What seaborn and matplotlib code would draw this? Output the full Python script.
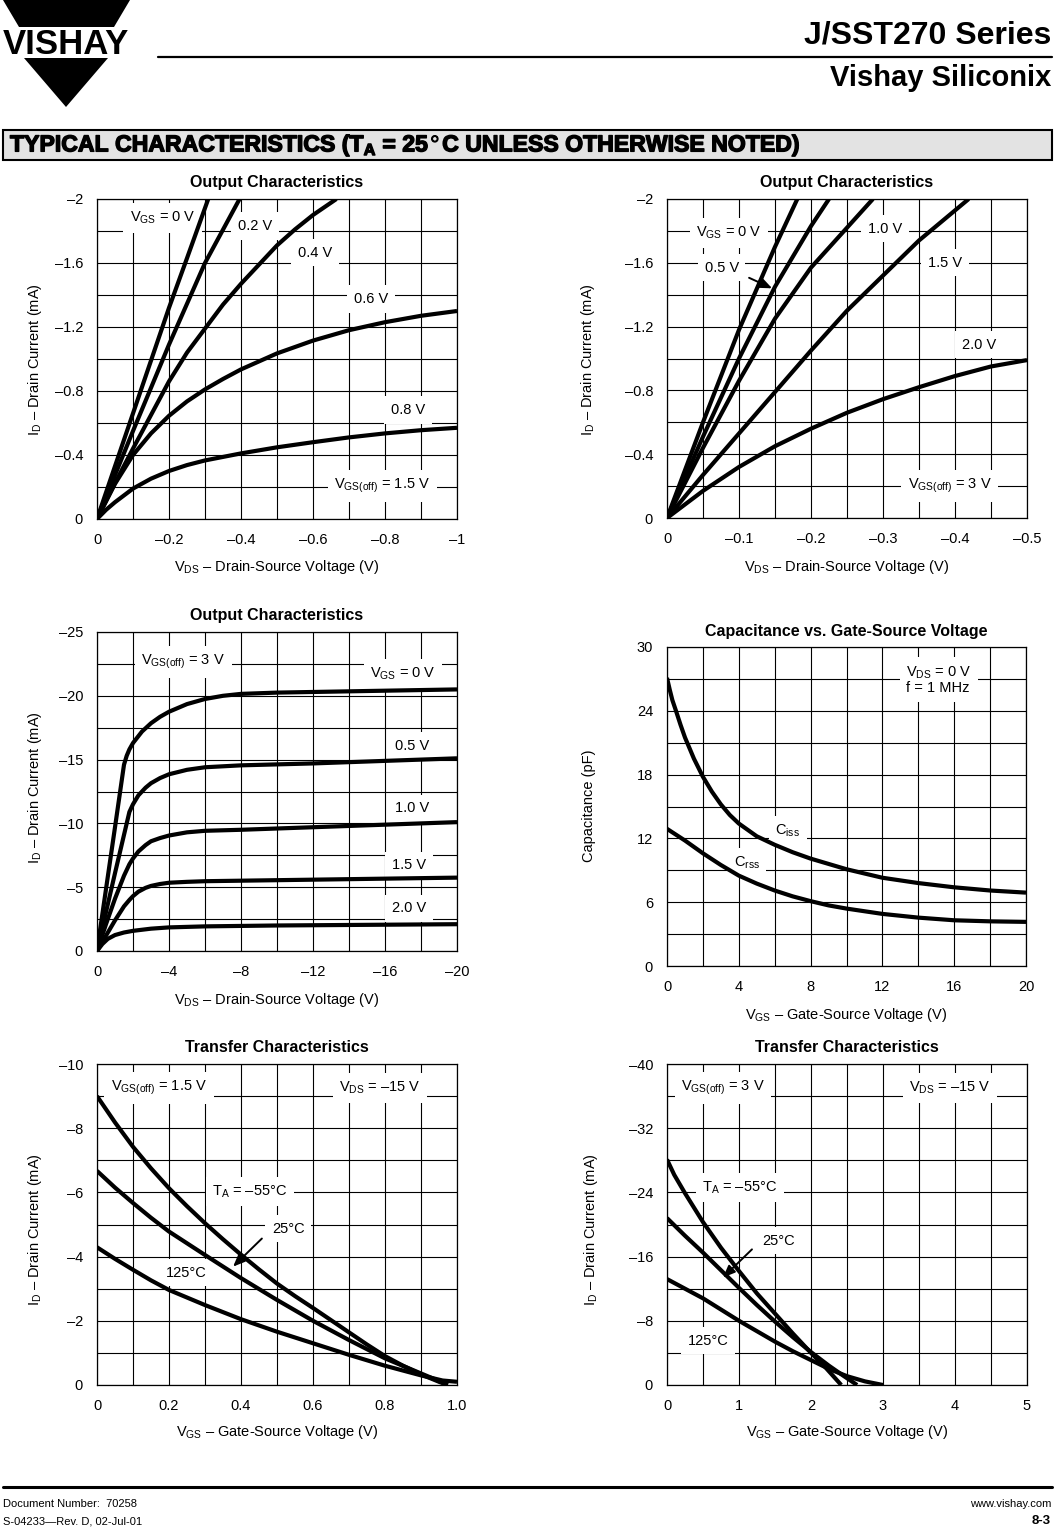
import matplotlib
matplotlib.use("Agg")
import matplotlib.pyplot as plt
import seaborn as sns
from matplotlib.patches import Polygon, Rectangle
import matplotlib.patheffects as pe

# ---------------- data ----------------
# Panel 1: Output characteristics, VGS(off)=1.5 V (VDS V, ID mA)
p1_vds_0 = [0, -0.05, -0.1, -0.15, -0.2, -0.25, -0.309]
p1_id_0 = [0, -0.33, -0.66, -0.99, -1.32, -1.63, -2.0]
p1_vds_02 = [0, -0.1, -0.2, -0.3, -0.396]
p1_id_02 = [0, -0.55, -1.09, -1.6, -2.0]
p1_vds_04 = [0, -0.05, -0.1, -0.15, -0.2, -0.25, -0.3, -0.35, -0.4, -0.45, -0.5, -0.55, -0.6, -0.665]
p1_id_04 = [0, -0.225, -0.44, -0.65, -0.86, -1.04, -1.19, -1.34, -1.47, -1.59, -1.71, -1.81, -1.9, -2.0]
p1_vds_06 = [0, -0.05, -0.1, -0.15, -0.2, -0.25, -0.3, -0.35, -0.4, -0.5, -0.6, -0.7, -0.8, -0.9, -1.0]
p1_id_06 = [0, -0.22, -0.40, -0.535, -0.645, -0.735, -0.81, -0.875, -0.935, -1.035, -1.115, -1.18, -1.23, -1.27, -1.30]
p1_vds_08 = [0, -0.025, -0.05, -0.1, -0.15, -0.2, -0.25, -0.3, -0.4, -0.5, -0.6, -0.7, -0.8, -0.9, -1.0]
p1_id_08 = [0, -0.057, -0.105, -0.19, -0.252, -0.30, -0.337, -0.366, -0.41, -0.448, -0.48, -0.51, -0.535, -0.555, -0.57]

# Panel 2: Output characteristics, VGS(off)=3 V
p2_vds_0 = [0, -0.05, -0.1, -0.15, -0.181]
p2_id_0 = [0, -0.6, -1.18, -1.7, -2.0]
p2_vds_05 = [0, -0.05, -0.1, -0.15, -0.2, -0.225]
p2_id_05 = [0, -0.51, -1.0, -1.45, -1.83, -2.0]
p2_vds_10 = [0, -0.05, -0.1, -0.15, -0.2, -0.25, -0.286]
p2_id_10 = [0, -0.44, -0.86, -1.25, -1.57, -1.82, -2.0]
p2_vds_15 = [0, -0.05, -0.1, -0.15, -0.2, -0.25, -0.3, -0.35, -0.419]
p2_id_15 = [0, -0.27, -0.53, -0.79, -1.05, -1.30, -1.52, -1.74, -2.0]
p2_vds_20 = [0, -0.05, -0.1, -0.15, -0.2, -0.25, -0.3, -0.35, -0.4, -0.45, -0.5]
p2_id_20 = [0, -0.17, -0.32, -0.45, -0.56, -0.66, -0.745, -0.82, -0.89, -0.95, -0.99]

# Panel 3: Output characteristics, wide range
p3_vds_0 = [0, -1.0, -1.5, -1.65, -1.8, -2.0, -2.5, -3, -3.5, -4, -5, -6, -7, -8, -10, -14, -20]
p3_id_0 = [0, -9.7, -14.6, -15.3, -15.8, -16.3, -17.2, -17.85, -18.35, -18.75, -19.35, -19.75, -20.0, -20.15, -20.25, -20.35, -20.5]
p3_vds_05 = [0, -1.0, -1.5, -1.8, -2.0, -2.3, -2.7, -3, -3.5, -4, -5, -6, -8, -12, -16, -20]
p3_id_05 = [0, -6.1, -9.1, -10.9, -11.5, -12.2, -12.8, -13.15, -13.55, -13.85, -14.2, -14.4, -14.55, -14.7, -14.9, -15.1]
p3_vds_10 = [0, -0.5, -1.0, -1.5, -1.8, -2.0, -2.3, -2.7, -3, -3.5, -4, -5, -6, -8, -12, -16, -20]
p3_id_10 = [0, -2.1, -4.1, -5.9, -6.8, -7.25, -7.8, -8.3, -8.6, -8.85, -9.05, -9.3, -9.42, -9.5, -9.7, -9.9, -10.1]
p3_vds_15 = [0, -0.5, -1.0, -1.5, -1.8, -2.0, -2.3, -2.7, -3, -3.5, -4, -5, -6, -10, -15, -20]
p3_id_15 = [0, -1.2, -2.4, -3.5, -4.0, -4.3, -4.65, -4.95, -5.1, -5.25, -5.35, -5.42, -5.47, -5.55, -5.65, -5.75]
p3_vds_20 = [0, -0.3, -0.6, -1.0, -1.5, -2.0, -3, -4, -6, -10, -15, -20]
p3_id_20 = [0, -0.55, -0.95, -1.25, -1.45, -1.58, -1.75, -1.85, -1.93, -2.0, -2.05, -2.1]

# Panel 4: Capacitance vs VGS (V, pF)
p4_vgs_ciss = [0, 0.15, 0.3, 0.5, 0.75, 1, 1.5, 2, 2.5, 3, 3.5, 4, 5, 6, 7, 8, 9, 10, 12, 14, 16, 18, 20]
p4_ciss = [27.1, 26.0, 25.0, 24.0, 22.7, 21.5, 19.5, 17.8, 16.4, 15.2, 14.2, 13.4, 12.2, 11.4, 10.7, 10.1, 9.6, 9.1, 8.3, 7.8, 7.4, 7.1, 6.9]
p4_vgs_crss = [0, 0.5, 1, 1.5, 2, 3, 4, 5, 6, 7, 8, 9, 10, 12, 14, 16, 18, 20]
p4_crss = [12.9, 12.35, 11.8, 11.2, 10.6, 9.5, 8.5, 7.75, 7.1, 6.55, 6.1, 5.7, 5.4, 4.9, 4.55, 4.3, 4.2, 4.15]

# Panel 5: Transfer characteristics, VGS(off)=1.5 V
p5_vgs_m55 = [0, 0.05, 0.1, 0.15, 0.2, 0.25, 0.3, 0.35, 0.4, 0.45, 0.5, 0.55, 0.6, 0.65, 0.7, 0.75, 0.8, 0.85, 0.9, 0.95, 0.975]
p5_id_m55 = [-9.0, -8.18, -7.42, -6.75, -6.13, -5.57, -5.04, -4.54, -4.06, -3.6, -3.16, -2.77, -2.4, -2.02, -1.64, -1.26, -0.9, -0.6, -0.33, -0.1, 0.0]
p5_vgs_25 = [0, 0.05, 0.1, 0.15, 0.2, 0.3, 0.4, 0.5, 0.6, 0.7, 0.8, 0.9, 0.97]
p5_id_25 = [-6.67, -6.15, -5.67, -5.21, -4.78, -4.05, -3.33, -2.65, -2.0, -1.4, -0.83, -0.36, -0.03]
p5_vgs_125 = [0, 0.05, 0.1, 0.15, 0.2, 0.3, 0.4, 0.5, 0.6, 0.7, 0.8, 0.9, 0.96, 1.0]
p5_id_125 = [-4.29, -3.93, -3.59, -3.26, -2.96, -2.49, -2.05, -1.66, -1.30, -0.94, -0.6, -0.3, -0.14, -0.1]

# Panel 6: Transfer characteristics, VGS(off)=3 V
p6_vgs_m55 = [0, 0.1, 0.25, 0.5, 0.75, 1.0, 1.25, 1.5, 1.75, 2.0, 2.2, 2.42]
p6_id_m55 = [-28.1, -26.2, -23.9, -20.3, -17.1, -14.2, -11.4, -8.9, -6.4, -4.0, -2.2, 0.0]
p6_vgs_25 = [0, 0.25, 0.5, 0.75, 1.0, 1.25, 1.5, 1.75, 2.0, 2.25, 2.45, 2.64]
p6_id_25 = [-20.8, -18.6, -16.5, -14.3, -12.1, -9.95, -7.9, -5.95, -4.1, -2.4, -1.15, 0.0]
p6_vgs_125 = [0, 0.25, 0.5, 0.75, 1.0, 1.25, 1.5, 1.75, 2.0, 2.25, 2.5, 2.75, 3.0]
p6_id_125 = [-13.2, -12.0, -10.8, -9.4, -8.0, -6.7, -5.4, -4.2, -3.1, -2.0, -1.1, -0.45, 0.0]

# tick labels
p1_xt = [0, -0.2, -0.4, -0.6, -0.8, -1]
p1_xl = ["0", "\u20130.2", "\u20130.4", "\u20130.6", "\u20130.8", "\u20131"]
p12_yt = [0, -0.4, -0.8, -1.2, -1.6, -2]
p12_yl = ["0", "\u20130.4", "\u20130.8", "\u20131.2", "\u20131.6", "\u20132"]
p2_xt = [0, -0.1, -0.2, -0.3, -0.4, -0.5]
p2_xl = ["0", "\u20130.1", "\u20130.2", "\u20130.3", "\u20130.4", "\u20130.5"]
p3_xt = [0, -4, -8, -12, -16, -20]
p3_xl = ["0", "\u20134", "\u20138", "\u201312", "\u201316", "\u201320"]
p3_yt = [0, -5, -10, -15, -20, -25]
p3_yl = ["0", "\u20135", "\u201310", "\u201315", "\u201320", "\u201325"]
p4_xt = [0, 4, 8, 12, 16, 20]
p4_xl = ["0", "4", "8", "12", "16", "20"]
p4_yt = [0, 6, 12, 18, 24, 30]
p4_yl = ["0", "6", "12", "18", "24", "30"]
p5_xt = [0, 0.2, 0.4, 0.6, 0.8, 1.0]
p5_xl = ["0", "0.2", "0.4", "0.6", "0.8", "1.0"]
p5_yt = [0, -2, -4, -6, -8, -10]
p5_yl = ["0", "\u20132", "\u20134", "\u20136", "\u20138", "\u201310"]
p6_xt = [0, 1, 2, 3, 4, 5]
p6_xl = ["0", "1", "2", "3", "4", "5"]
p6_yt = [0, -8, -16, -24, -32, -40]
p6_yl = ["0", "\u20138", "\u201316", "\u201324", "\u201332", "\u201340"]

# ---------------- style ----------------
sns.set_theme(style="white")
plt.rcParams['font.family'] = ['Liberation Sans', 'DejaVu Sans']
plt.rcParams['mathtext.fontset'] = 'custom'
plt.rcParams['mathtext.rm'] = 'Liberation Sans'
plt.rcParams['mathtext.it'] = 'Liberation Sans:italic'
plt.rcParams['mathtext.bf'] = 'Liberation Sans:bold'
plt.rcParams['text.color'] = 'black'

W, H = 1055, 1529
fig = plt.figure(figsize=(W / 100, H / 100), dpi=100)
fig.patch.set_facecolor('white')

def fx(x):
    return x / W

def fy(y):
    return 1 - y / H

# overlay for header / footer
ov = fig.add_axes([0, 0, 1, 1])
ov.set_xlim(0, W)
ov.set_ylim(H, 0)
ov.axis('off')
ov.add_patch(Polygon([(3, 0), (130, 0), (114, 27), (19, 27)], closed=True, color='black', lw=0))
ov.add_patch(Polygon([(24, 58), (108, 58), (66, 107)], closed=True, color='black', lw=0))
ov.text(66, 44, "VISHAY", ha='center', va='center', fontsize=25, fontweight='bold')
ov.plot([158, 1052], [57, 57], color='black', lw=1.6)
ov.text(1051, 36, "J/SST270 Series", ha='right', va='center', fontsize=23, fontweight='bold')
ov.text(1051, 78, "Vishay Siliconix", ha='right', va='center', fontsize=21, fontweight='bold')
ov.add_patch(Rectangle((3, 130), 1049, 30, facecolor='#e3e3e3', edgecolor='black', lw=1.5))
ov.text(10, 145, r"TYPICAL CHARACTERISTICS (T$_{\mathbf{A}}$ = 25$^\circ$C UNLESS OTHERWISE NOTED)",
        ha='left', va='center', fontsize=16.6, fontweight='bold',
        path_effects=[pe.withStroke(linewidth=1.0, foreground='black')])
ov.plot([3, 1052], [1487, 1487], color='black', lw=2.2)
ov.text(3, 1504, "Document Number:  70258", ha='left', va='center', fontsize=8)
ov.text(3, 1521, "S-04233\u2014Rev. D, 02-Jul-01", ha='left', va='center', fontsize=8)
ov.text(1051, 1504, "www.vishay.com", ha='right', va='center', fontsize=8)
ov.text(1051, 1521, "8-3", ha='right', va='center', fontsize=9.5, fontweight='bold')

LW = 3.0
FS = 10.5
BOX = dict(boxstyle='square,pad=0.45', facecolor='white', edgecolor='none')


def make_axes(l, t, r, b, xlim, ylim, xt, xl, xminor, yt, yl, yminor):
    ax = fig.add_axes([fx(l), fy(b), (r - l) / W, (b - t) / H])
    ax.set_facecolor('white')
    ax.set_xlim(*xlim)
    ax.set_ylim(*ylim)
    ax.set_xticks(xt)
    ax.set_xticklabels(xl)
    ax.set_xticks(xminor, minor=True)
    ax.set_yticks(yt)
    ax.set_yticklabels(yl)
    ax.set_yticks(yminor, minor=True)
    ax.tick_params(which='both', length=0, labelsize=FS, colors='black')
    ax.tick_params(axis='x', pad=10)
    ax.tick_params(axis='y', pad=10)
    ax.set_axisbelow(True)
    ax.grid(which='both', color='black', lw=0.8)
    for s in ax.spines.values():
        s.set_color('black')
        s.set_linewidth(0.9)
        s.set_visible(True)
    return ax


def curve(ax, x, y):
    sns.lineplot(x=x, y=y, ax=ax, color='black', linewidth=LW, estimator=None,
                 sort=False, zorder=4, solid_capstyle='butt', solid_joinstyle='round')
    ax.set_xlabel("")
    ax.set_ylabel("")


def lab(ax, x, y, s, ha='center'):
    ax.text(x, y, s, ha=ha, va='center', fontsize=FS, bbox=BOX, zorder=3)


def arrow(ax, x0, y0, x1, y1):
    ax.annotate("", xy=(x1, y1), xytext=(x0, y0), zorder=5,
                arrowprops=dict(arrowstyle='-|>,head_length=0.6,head_width=0.25',
                                color='black', lw=1.4, shrinkA=0, shrinkB=0))


def ftext(x, y, s, **kw):
    fig.text(fx(x), fy(y), s, ha='center', va='center', **kw)


DASH = "\u2013"
VDS_LBL = r"V$_{\mathrm{DS}}$ " + DASH + " Drain-Source Voltage (V)"
VGS_LBL = r"V$_{\mathrm{GS}}$ " + DASH + " Gate-Source Voltage (V)"
ID_LBL = r"I$_{\mathrm{D}}$ " + DASH + " Drain Current (mA)"

# ---- Panel 1 ----
ax1 = make_axes(97, 199, 457, 519, (0, -1), (0, -2), p1_xt, p1_xl,
                [-0.1, -0.3, -0.5, -0.7, -0.9], p12_yt, p12_yl, [-0.2, -0.6, -1.0, -1.4, -1.8])
for xs, ys in [(p1_vds_0, p1_id_0), (p1_vds_02, p1_id_02), (p1_vds_04, p1_id_04),
               (p1_vds_06, p1_id_06), (p1_vds_08, p1_id_08)]:
    curve(ax1, xs, ys)
lab(ax1, -0.183, -1.881, r"V$_{\mathrm{GS}}$ = 0 V")
lab(ax1, -0.439, -1.831, "0.2 V")
lab(ax1, -0.606, -1.663, "0.4 V")
lab(ax1, -0.761, -1.375, "0.6 V")
lab(ax1, -0.864, -0.681, "0.8 V")
lab(ax1, -0.792, -0.206, r"V$_{\mathrm{GS(off)}}$ = 1.5 V")
ftext(277, 183, "Output Characteristics", fontsize=11.5, fontweight='bold')
ftext(277, 567, VDS_LBL, fontsize=FS)
ftext(35, 360, ID_LBL, fontsize=FS, rotation=90)

# ---- Panel 2 ----
ax2 = make_axes(667, 199, 1027, 518, (0, -0.5), (0, -2), p2_xt, p2_xl,
                [-0.05, -0.15, -0.25, -0.35, -0.45], p12_yt, p12_yl, [-0.2, -0.6, -1.0, -1.4, -1.8])
for xs, ys in [(p2_vds_0, p2_id_0), (p2_vds_05, p2_id_05), (p2_vds_10, p2_id_10),
               (p2_vds_15, p2_id_15), (p2_vds_20, p2_id_20)]:
    curve(ax2, xs, ys)
lab(ax2, -0.086, -1.788, r"V$_{\mathrm{GS}}$ = 0 V")
lab(ax2, -0.076, -1.569, "0.5 V")
arrow(ax2, -0.114, -1.506, -0.146, -1.44)
lab(ax2, -0.303, -1.813, "1.0 V")
lab(ax2, -0.386, -1.6, "1.5 V")
lab(ax2, -0.433, -1.0875, "2.0 V")
lab(ax2, -0.393, -0.2, r"V$_{\mathrm{GS(off)}}$ = 3 V")
ftext(847, 183, "Output Characteristics", fontsize=11.5, fontweight='bold')
ftext(847, 567, VDS_LBL, fontsize=FS)
ftext(588, 360, ID_LBL, fontsize=FS, rotation=90)

# ---- Panel 3 ----
ax3 = make_axes(97, 632, 457, 951, (0, -20), (0, -25), p3_xt, p3_xl,
                [-2, -6, -10, -14, -18], p3_yt, p3_yl, [-2.5, -7.5, -12.5, -17.5, -22.5])
for xs, ys in [(p3_vds_0, p3_id_0), (p3_vds_05, p3_id_05), (p3_vds_10, p3_id_10),
               (p3_vds_15, p3_id_15), (p3_vds_20, p3_id_20)]:
    curve(ax3, xs, ys)
lab(ax3, -4.78, -22.66, r"V$_{\mathrm{GS(off)}}$ = 3 V")
lab(ax3, -17.0, -21.72, r"V$_{\mathrm{GS}}$ = 0 V")
lab(ax3, -17.5, -16.1, "0.5 V")
lab(ax3, -17.5, -11.17, "1.0 V")
lab(ax3, -17.33, -6.72, "1.5 V")
lab(ax3, -17.33, -3.36, "2.0 V")
ftext(277, 616, "Output Characteristics", fontsize=11.5, fontweight='bold')
ftext(277, 1000, VDS_LBL, fontsize=FS)
ftext(35, 788, ID_LBL, fontsize=FS, rotation=90)

# ---- Panel 4 ----
ax4 = make_axes(667, 647, 1026, 966, (0, 20), (0, 30), p4_xt, p4_xl,
                [2, 6, 10, 14, 18], p4_yt, p4_yl, [3, 9, 15, 21, 27])
curve(ax4, p4_vgs_ciss, p4_ciss)
curve(ax4, p4_vgs_crss, p4_crss)
ax4.text(13.33, 26.9, "V$_{\\mathrm{DS}}$ = 0 V\nf = 1 MHz", ha='left', va='center',
         fontsize=FS, bbox=BOX, zorder=3, linespacing=1.0)
lab(ax4, 6.72, 12.75, r"C$_{\mathrm{iss}}$")
lab(ax4, 4.44, 9.75, r"C$_{\mathrm{rss}}$")
ftext(846, 631, "Capacitance vs. Gate-Source Voltage", fontsize=11.5, fontweight='bold')
ftext(846, 1015, VGS_LBL, fontsize=FS)
ftext(589, 806, "Capacitance (pF)", fontsize=FS, rotation=90)

# ---- Panel 5 ----
ax5 = make_axes(97, 1064, 457, 1385, (0, 1.0), (0, -10), p5_xt, p5_xl,
                [0.1, 0.3, 0.5, 0.7, 0.9], p5_yt, p5_yl, [-1, -3, -5, -7, -9])
for xs, ys in [(p5_vgs_m55, p5_id_m55), (p5_vgs_25, p5_id_25), (p5_vgs_125, p5_id_125)]:
    curve(ax5, xs, ys)
lab(ax5, 0.172, -9.25, r"V$_{\mathrm{GS(off)}}$ = 1.5 V")
lab(ax5, 0.786, -9.25, "V$_{\\mathrm{DS}}$ = " + DASH + "15 V")
lab(ax5, 0.425, -6.03, "T$_{\\mathrm{A}}$ = " + DASH + "55\u00b0C")
lab(ax5, 0.531, -4.875, "25\u00b0C")
arrow(ax5, 0.458, -4.5625, 0.378, -3.6875)
lab(ax5, 0.247, -3.5, "125\u00b0C")
ftext(277, 1048, "Transfer Characteristics", fontsize=11.5, fontweight='bold')
ftext(277, 1432, VGS_LBL, fontsize=FS)
ftext(35, 1230, ID_LBL, fontsize=FS, rotation=90)

# ---- Panel 6 ----
ax6 = make_axes(667, 1064, 1027, 1385, (0, 5), (0, -40), p6_xt, p6_xl,
                [0.5, 1.5, 2.5, 3.5, 4.5], p6_yt, p6_yl, [-4, -12, -20, -28, -36])
for xs, ys in [(p6_vgs_m55, p6_id_m55), (p6_vgs_25, p6_id_25), (p6_vgs_125, p6_id_125)]:
    curve(ax6, xs, ys)
lab(ax6, 0.778, -37.0, r"V$_{\mathrm{GS(off)}}$ = 3 V")
lab(ax6, 3.93, -37.0, "V$_{\\mathrm{DS}}$ = " + DASH + "15 V")
lab(ax6, 1.014, -24.6, "T$_{\\mathrm{A}}$ = " + DASH + "55\u00b0C")
lab(ax6, 1.556, -18.0, "25\u00b0C")
arrow(ax6, 1.18, -16.9, 0.778, -13.4)
lab(ax6, 0.569, -5.5, "125\u00b0C")
ftext(847, 1048, "Transfer Characteristics", fontsize=11.5, fontweight='bold')
ftext(847, 1432, VGS_LBL, fontsize=FS)
ftext(591, 1230, ID_LBL, fontsize=FS, rotation=90)

for a in [ax1, ax2, ax3, ax4, ax5, ax6]:
    leg = a.get_legend()
    if leg is not None:
        leg.remove()

fig.savefig("out.png", dpi=100, facecolor='white')
